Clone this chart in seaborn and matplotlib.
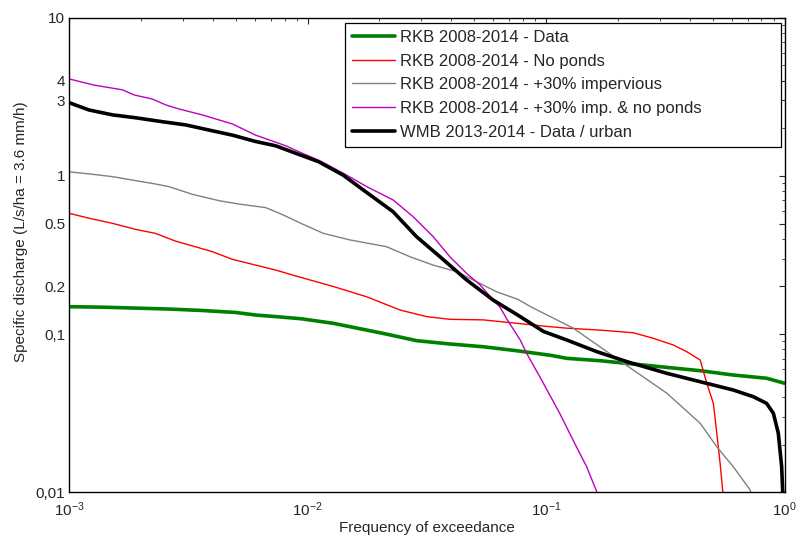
import numpy as np
import pandas as pd
import matplotlib
matplotlib.use("Agg")
import matplotlib.pyplot as plt
import matplotlib.ticker as mticker
import seaborn as sns

# ---------------- data ----------------
labels = ["RKB 2008-2014 - Data",
          "RKB 2008-2014 - No ponds",
          "RKB 2008-2014 - +30% impervious",
          "RKB 2008-2014 - +30% imp. & no ponds",
          "WMB 2013-2014 - Data / urban"]

green_x = [1e-3, 1.37e-3, 1.90e-3, 2.62e-3, 3.61e-3, 4.99e-3, 6.05e-3, 7.34e-3, 9.4e-3,
           1.28e-2, 1.77e-2, 2.14e-2, 2.86e-2, 3.95e-2, 5.45e-2, 7.53e-2, 0.104, 0.122,
           0.168, 0.232, 0.321, 0.443, 0.610, 0.841, 1.0]
green_y = [0.149, 0.148, 0.146, 0.144, 0.141, 0.137, 0.132, 0.129, 0.125,
           0.117, 0.106, 0.100, 0.0909, 0.0866, 0.0832, 0.0785, 0.0735, 0.0703,
           0.0679, 0.0647, 0.0616, 0.0587, 0.0551, 0.0526, 0.0489]

red_x = [1e-3, 1.21e-3, 1.52e-3, 1.90e-3, 2.30e-3, 2.79e-3, 3.39e-3, 3.98e-3, 4.83e-3,
         6.05e-3, 7.34e-3, 9.1e-3, 1.28e-2, 1.77e-2, 2.44e-2, 3.15e-2, 3.95e-2, 5.45e-2,
         7.53e-2, 0.100, 0.122, 0.168, 0.232, 0.282, 0.342, 0.389, 0.443, 0.472, 0.503,
         0.520, 0.537, 0.551, 0.556]
red_y = [0.580, 0.540, 0.501, 0.459, 0.433, 0.387, 0.356, 0.332, 0.297,
         0.273, 0.254, 0.231, 0.200, 0.172, 0.142, 0.129, 0.124, 0.123,
         0.117, 0.112, 0.109, 0.106, 0.102, 0.094, 0.0853, 0.0774, 0.0686, 0.0489, 0.0365,
         0.0236, 0.0152, 0.0101, 0.009]

gray_x = [1e-3, 1.21e-3, 1.52e-3, 1.90e-3, 2.30e-3, 2.62e-3, 3.28e-3, 4.25e-3, 5.15e-3,
          6.67e-3, 7.82e-3, 9.4e-3, 1.16e-2, 1.50e-2, 2.14e-2, 2.69e-2, 3.36e-2, 4.22e-2,
          5.28e-2, 6.21e-2, 7.6e-2, 8.83e-2, 0.100, 0.130, 0.168, 0.232, 0.321, 0.443,
          0.520, 0.610, 0.716, 0.74]
gray_y = [1.06, 1.03, 0.989, 0.933, 0.889, 0.855, 0.765, 0.697, 0.664,
          0.630, 0.570, 0.50, 0.434, 0.394, 0.357, 0.308, 0.273, 0.248,
          0.209, 0.185, 0.166, 0.146, 0.133, 0.109, 0.0832, 0.0593, 0.0423, 0.0273,
          0.0194, 0.0145, 0.0104, 0.009]

magenta_x = [1e-3, 1.27e-3, 1.67e-3, 1.87e-3, 2.23e-3, 2.54e-3, 2.88e-3, 3.61e-3, 4.83e-3,
             6.05e-3, 8.09e-3, 9.4e-3, 1.12e-2, 1.41e-2, 1.77e-2, 2.28e-2, 2.77e-2, 3.36e-2,
             3.95e-2, 4.64e-2, 5.28e-2, 6.0e-2, 6.41e-2, 6.83e-2, 7.78e-2, 8.29e-2, 9.74e-2,
             0.114, 0.134, 0.148, 0.163, 0.168]
magenta_y = [4.1, 3.75, 3.5, 3.25, 3.06, 2.81, 2.65, 2.43, 2.13,
             1.81, 1.55, 1.40, 1.25, 1.04, 0.855, 0.705, 0.552, 0.413,
             0.308, 0.242, 0.205, 0.164, 0.148, 0.125, 0.092, 0.0756, 0.0489,
             0.0316, 0.0194, 0.0145, 0.0101, 0.009]

black_x = [1e-3, 1.21e-3, 1.52e-3, 1.90e-3, 2.46e-3, 3.08e-3, 3.85e-3, 4.83e-3, 6.05e-3,
           7.34e-3, 8.91e-3, 1.11e-2, 1.41e-2, 1.71e-2, 2.28e-2, 2.86e-2, 3.59e-2, 4.64e-2,
           6.0e-2, 7.6e-2, 9.74e-2, 0.122, 0.163, 0.218, 0.321, 0.443, 0.610, 0.740, 0.841,
           0.898, 0.942, 0.973, 0.982, 0.99]
black_y = [2.90, 2.61, 2.43, 2.33, 2.20, 2.10, 1.95, 1.81, 1.65,
           1.55, 1.39, 1.23, 1.01, 0.815, 0.594, 0.413, 0.308, 0.220,
           0.164, 0.132, 0.104, 0.0918, 0.0775, 0.0670, 0.0565, 0.0500, 0.0443, 0.0402, 0.0365,
           0.0316, 0.0236, 0.0145, 0.0104, 0.008]

ytick_vals = [0.01, 0.1, 0.2, 0.5, 1, 3, 4, 10]
ytick_labels = ["0,01", "0,1", "0.2", "0.5", "1", "3", "4", "10"]
xtick_vals = [1e-3, 1e-2, 1e-1, 1e0]

series = [(green_x, green_y), (red_x, red_y), (gray_x, gray_y),
          (magenta_x, magenta_y), (black_x, black_y)]
colors = ["#008000", "#ff0000", "#808080", "#bf00bf", "#000000"]
widths = [2.6, 1.0, 1.0, 1.0, 2.6]

# ---------------- plot ----------------
sns.set_style("white")
plt.rcParams["font.family"] = ["Liberation Sans", "DejaVu Sans"]
plt.rcParams["mathtext.fontset"] = "custom"
plt.rcParams["mathtext.rm"] = "Liberation Sans"
plt.rcParams["mathtext.it"] = "Liberation Sans"

fig = plt.figure(figsize=(7.96, 5.39), dpi=100)
ax = fig.add_axes([69.3 / 796, (539 - 492.3) / 539, (784.5 - 69.3) / 796, (492.3 - 17.7) / 539])

for (xs, ys), lab, c, lw in zip(series, labels, colors, widths):
    df = pd.DataFrame({"x": xs, "y": ys})
    sns.lineplot(data=df, x="x", y="y", ax=ax, color=c, linewidth=lw, label=lab,
                 estimator=None, sort=False)

ax.set_xscale("log")
ax.set_yscale("log")
ax.set_xlim(1e-3, 1)
ax.set_ylim(0.01, 10)

ax.xaxis.set_major_locator(mticker.FixedLocator(xtick_vals))
ax.xaxis.set_major_formatter(mticker.LogFormatterSciNotation())
ax.xaxis.set_minor_locator(mticker.LogLocator(base=10, subs=np.arange(2, 10)))
ax.xaxis.set_minor_formatter(mticker.NullFormatter())
ax.yaxis.set_major_locator(mticker.FixedLocator(ytick_vals))
ax.yaxis.set_major_formatter(mticker.FixedFormatter(ytick_labels))
ax.yaxis.set_minor_locator(mticker.LogLocator(base=10, subs=np.arange(2, 10)))
ax.yaxis.set_minor_formatter(mticker.NullFormatter())

ax.tick_params(which="both", direction="in", top=True, right=True, colors="#262626",
               labelcolor="#262626", labelsize=11)
ax.tick_params(which="major", length=4, width=0.8)
ax.tick_params(which="minor", length=2.5, width=0.6)
ax.tick_params(axis="x", pad=6)
ax.tick_params(axis="y", pad=3)
for s in ax.spines.values():
    s.set_color("black")
    s.set_linewidth(1.0)

ax.set_xlabel("Frequency of exceedance", fontsize=11, color="#262626", labelpad=1)
ax.set_ylabel("Specific discharge (L/s/ha = 3.6 mm/h)", fontsize=11, color="#262626")
ax.yaxis.set_label_coords(-0.058, (492.3 - 232) / (492.3 - 17.7))

x0, x1, ytop, ybot = 345, 781, 23, 146
leg = ax.legend(loc="upper left",
                bbox_to_anchor=(x0 / 796, (539 - ybot) / 539, (x1 - x0) / 796, (ybot - ytop) / 539),
                bbox_transform=fig.transFigure, mode="expand", frameon=True, fancybox=False,
                fontsize=12, handlelength=2.6, handletextpad=0.3, borderpad=0.42,
                labelspacing=0.52, borderaxespad=0)
leg.get_frame().set_edgecolor("black")
leg.get_frame().set_linewidth(0.9)
leg.get_frame().set_alpha(1)

fig.savefig("out.png", dpi=100)
